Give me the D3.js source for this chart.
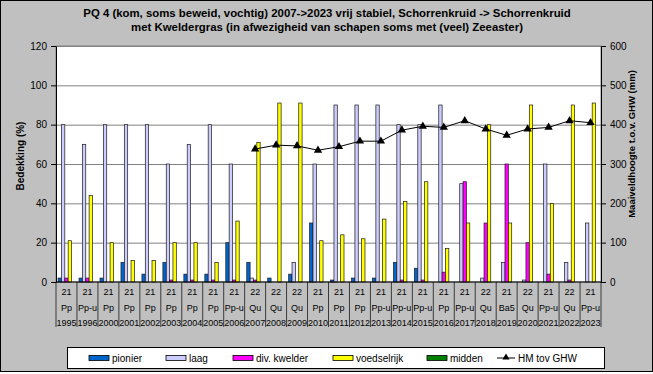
<!doctype html>
<html>
<head>
<meta charset="utf-8">
<title>PQ 4 bedekking</title>
<script src="https://d3js.org/d3.v7.min.js"></script>
<style>
body{ margin:0; background:#fff; }
svg{ display:block; font-family:"Liberation Sans", Arial, sans-serif; }
</style>
</head>
<body>
<svg id="chart" width="653" height="374"></svg>
<script>

// category labels (3 levels)
var codes = ["21","21","21","21","21","21","21","21","21","22","22","22","21","21","21","21","21","21","21","21","22","21","22","21","22","21"];
var types = ["Pp","Pp-u","Pp","Pp","Pp","Pp","Pp","Pp","Pp-u","Qu","Qu","Qu","Pp","Pp","Pp","Pp-u","Pp-u","Pp-u","Pp","Pp-u","Qu","Ba5","Qu","Pp-u","Qu","Pp-u"];
var years = ["1995","1996","2000","2001","2002","2003","2004","2005","2006","2007","2008","2009","2010","2011","2012","2013","2014","2015","2016","2017","2018","2019","2020","2021","2022","2023"];

// bedekking (%)
var pionier     = [2, 2, 2, 10, 4, 10, 4, 4, 20, 10, 2, 4, 30, 1, 2, 2, 10, 7, 0, 0, 0, 0, 0, 0, 0, 0];
var laag        = [80, 70, 80, 80, 80, 60, 70, 80, 60, 2, 0, 10, 60, 90, 90, 90, 80, 80, 90, 50, 2, 10, 1, 60, 10, 30];
var kwelder     = [2, 2, 0, 0, 0, 1, 1, 1, 1, 1, 0, 0, 0, 0, 0, 0, 1, 1, 5, 51, 30, 60, 20, 4, 1, 0];
var voedselrijk = [21, 44, 20, 11, 11, 20, 20, 10, 31, 71, 91, 91, 21, 24, 22, 32, 41, 51, 17, 30, 80, 30, 90, 40, 90, 91];
var midden      = [0, 0, 0, 0, 0, 0, 0, 0, 0, 0, 0, 0, 0, 0, 0, 0, 0, 0, 0, 0, 0, 0, 0, 0, 0, 0];

// maaiveldhoogte t.o.v. GHW (mm)
var hm = [null, null, null, null, null, null, null, null, null, 338, 348, 346, 335, 344, 358, 358, 386, 396, 393, 410, 389, 373, 389, 393, 410, 405];

var leftTicks = [0, 20, 40, 60, 80, 100, 120];
var rightTicks = [0, 100, 200, 300, 400, 500, 600];

var series = [
  {name: "pionier", values: pionier, color: "#0066CC"},
  {name: "laag", values: laag, color: "#CCCCFF"},
  {name: "div. kwelder", values: kwelder, color: "#FF00FF"},
  {name: "voedselrijk", values: voedselrijk, color: "#FFFF00"},
  {name: "midden", values: midden, color: "#008000"}
];

var svg = d3.select("#chart");
var W = 653, H = 374;
var margin = {left: 56, right: 52, top: 46, bottom: 92};
var x0 = margin.left, x1 = W - margin.right, y0 = H - margin.bottom, y1 = margin.top;

// chart background
svg.append("rect").attr("x", 0.5).attr("y", 0.5).attr("width", W - 1).attr("height", H - 3)
  .attr("fill", "#C0C0C0").attr("stroke", "#000");

// title
var title = svg.append("text").attr("text-anchor", "middle").attr("font-weight", "bold")
  .attr("font-size", "11.4px").attr("fill", "#000");
title.append("tspan").attr("x", 327).attr("y", 17)
  .text("PQ 4 (kom, soms beweid, vochtig) 2007->2023 vrij stabiel, Schorrenkruid -> Schorrenkruid");
title.append("tspan").attr("x", 327).attr("y", 31)
  .text("met Kweldergras (in afwezigheid van schapen soms met (veel) Zeeaster)");

var x = d3.scaleBand().domain(years).range([x0, x1]).paddingInner(0.2).paddingOuter(0.1);
var xs = d3.scaleBand().domain(series.map(function(s) { return s.name; })).range([0, x.bandwidth()]);
var y = d3.scaleLinear().domain([0, 120]).range([y0, y1]);
var y2 = d3.scaleLinear().domain([0, 600]).range([y0, y1]);

// plot area
svg.append("rect").attr("x", x0).attr("y", y1).attr("width", x1 - x0).attr("height", y0 - y1)
  .attr("fill", "#fff").attr("stroke", "#808080");

// gridlines
svg.append("g").attr("transform", "translate(" + x0 + ",0)")
  .call(d3.axisLeft(y).tickValues(leftTicks.slice(1)).tickSize(-(x1 - x0)).tickFormat(""))
  .call(function(g) { g.select(".domain").remove(); })
  .selectAll("line").attr("stroke", "#808080");

// bars
var groups = svg.append("g").selectAll("g").data(years).join("g")
  .attr("transform", function(d) { return "translate(" + x(d) + ",0)"; });

groups.selectAll("rect")
  .data(function(d, i) { return series.map(function(s) { return {name: s.name, color: s.color, v: s.values[i]}; }); })
  .join("rect")
  .filter(function(d) { return d.v > 0; })
  .attr("x", function(d) { return xs(d.name); })
  .attr("y", function(d) { return y(d.v); })
  .attr("width", xs.bandwidth())
  .attr("height", function(d) { return y0 - y(d.v); })
  .attr("fill", function(d) { return d.color; })
  .attr("stroke", "#1a1a1a").attr("stroke-width", 0.7);

// HM line
var pts = years.map(function(d, i) { return {year: d, v: hm[i]}; }).filter(function(d) { return d.v != null; });
var line = d3.line()
  .x(function(d) { return x(d.year) + x.bandwidth() / 2; })
  .y(function(d) { return y2(d.v); });
svg.append("path").datum(pts).attr("d", line).attr("fill", "none").attr("stroke", "#000").attr("stroke-width", 1);
svg.append("g").selectAll("path").data(pts).join("path")
  .attr("d", d3.symbol().type(d3.symbolTriangle).size(30))
  .attr("transform", function(d) { return "translate(" + (x(d.year) + x.bandwidth() / 2) + "," + y2(d.v) + ")"; })
  .attr("fill", "#000");

// left axis
var gl = svg.append("g").attr("transform", "translate(" + x0 + ",0)")
  .call(d3.axisLeft(y).tickValues(leftTicks).tickSize(5).tickSizeOuter(0).tickPadding(4));
gl.select(".domain").attr("stroke", "#000");
gl.selectAll("text").attr("font-size", "10px").attr("font-family", null).attr("fill", "#000");

// right axis
var gr = svg.append("g").attr("transform", "translate(" + x1 + ",0)")
  .call(d3.axisRight(y2).tickValues(rightTicks).tickSize(5).tickSizeOuter(0).tickPadding(4));
gr.select(".domain").attr("stroke", "#000");
gr.selectAll("text").attr("font-size", "10px").attr("font-family", null).attr("fill", "#000");

// category axis (three label rows)
var rows = [codes, types, years];
rows.forEach(function(arr, r) {
  var g = svg.append("g").attr("transform", "translate(0," + (y0 + 7 + r * 15.3) + ")")
    .call(d3.axisBottom(x).tickSize(0).tickPadding(0)
      .tickFormat(function(d) { return arr[years.indexOf(d)]; }));
  g.select(".domain").remove();
  g.selectAll("text").attr("font-size", "9px").attr("font-family", null).attr("fill", "#000");
});
svg.append("line").attr("x1", x0).attr("x2", x1).attr("y1", y0).attr("y2", y0).attr("stroke", "#000");
var step = x.step();
svg.append("g").selectAll("line").data(years.concat(["end"])).join("line")
  .attr("x1", function(d, i) { return x0 + i * step; })
  .attr("x2", function(d, i) { return x0 + i * step; })
  .attr("y1", y0).attr("y2", y0 + 45)
  .attr("stroke", "#000").attr("stroke-width", 0.7);

// axis titles
svg.append("text").attr("transform", "translate(24,156) rotate(-90)")
  .attr("text-anchor", "middle").attr("font-weight", "bold").attr("font-size", "10px")
  .text("Bedekking (%)");
svg.append("text").attr("transform", "translate(635,144) rotate(-90)")
  .attr("text-anchor", "middle").attr("font-weight", "bold").attr("font-size", "9.5px")
  .text("Maaiveldhoogte t.o.v. GHW (mm)");

// legend
svg.append("rect").attr("x", 67.5).attr("y", 347.5).attr("width", 537).attr("height", 21)
  .attr("fill", "#fff").attr("stroke", "#000");
var legendX = [89, 166, 233, 333, 427];
series.forEach(function(s, i) {
  svg.append("rect").attr("x", legendX[i]).attr("y", 355.5).attr("width", 20).attr("height", 5)
    .attr("fill", s.color).attr("stroke", "#000").attr("stroke-width", 0.8);
  svg.append("text").attr("x", legendX[i] + 23).attr("y", 362).attr("font-size", "10px").text(s.name);
});
svg.append("line").attr("x1", 497).attr("x2", 515).attr("y1", 358).attr("y2", 358).attr("stroke", "#000");
svg.append("path").attr("d", d3.symbol().type(d3.symbolTriangle).size(22)).attr("transform", "translate(506,357.5)");
svg.append("text").attr("x", 518).attr("y", 362).attr("font-size", "10px").text("HM tov GHW");

</script>
</body>
</html>
